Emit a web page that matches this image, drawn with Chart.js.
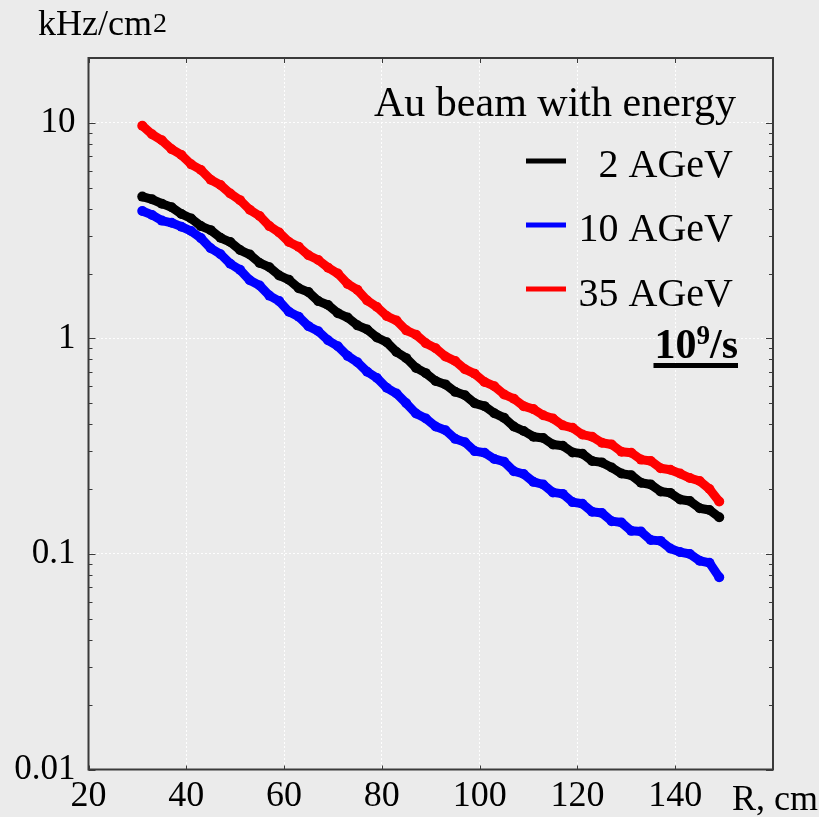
<!DOCTYPE html>
<html>
<head>
<meta charset="utf-8">
<script src="https://cdn.jsdelivr.net/npm/chart.js@4.4.1/dist/chart.umd.min.js"></script>
<style>
  html, body { margin: 0; padding: 0; background: #ebebeb; }
  #wrap { width: 819px; height: 817px; }
</style>
</head>
<body>
<div id="wrap"><canvas id="myChart" width="819" height="817"></canvas></div>
<script>
// R, cm
var radius = [31, 33, 35, 37, 39, 41, 43, 45, 47, 49, 51, 53, 55, 57, 59, 61, 63, 65, 67, 69,
  71, 73, 75, 77, 79, 81, 83, 85, 87, 89, 91, 93, 95, 97, 99, 101, 103, 105, 107, 109,
  111, 113, 115, 117, 119, 121, 123, 125, 127, 129, 131, 133, 135, 137, 139, 141, 143, 145, 147, 149];

// kHz/cm2 for each beam energy
var rate2 = [4.55, 4.42, 4.22, 4.06, 3.78, 3.60, 3.32, 3.18, 2.93, 2.80, 2.57, 2.45, 2.24, 2.14, 1.96, 1.87, 1.71, 1.64, 1.49, 1.43,
  1.31, 1.25, 1.15, 1.10, 1.01, 0.96, 0.865, 0.81, 0.73, 0.69, 0.635, 0.612, 0.565, 0.545, 0.50, 0.485, 0.45, 0.428, 0.39, 0.372,
  0.35, 0.345, 0.322, 0.318, 0.296, 0.292, 0.27, 0.266, 0.252, 0.236, 0.232, 0.214, 0.21, 0.195, 0.192, 0.179, 0.176, 0.163, 0.16, 0.148];
var rate10 = [3.9, 3.74, 3.52, 3.44, 3.3, 3.15, 2.92, 2.62, 2.46, 2.22, 2.08, 1.86, 1.76, 1.58, 1.49, 1.33, 1.26, 1.14, 1.08, 0.98,
  0.92, 0.83, 0.775, 0.70, 0.655, 0.59, 0.555, 0.50, 0.448, 0.425, 0.39, 0.375, 0.342, 0.33, 0.30, 0.295, 0.276, 0.268, 0.242, 0.235,
  0.216, 0.21, 0.193, 0.19, 0.174, 0.171, 0.157, 0.155, 0.142, 0.14, 0.128, 0.127, 0.116, 0.115, 0.106, 0.102, 0.1, 0.093, 0.091, 0.078];
var rate35 = [9.7, 8.85, 8.3, 7.55, 7.1, 6.42, 6.05, 5.45, 5.15, 4.70, 4.38, 3.95, 3.70, 3.32, 3.10, 2.80, 2.66, 2.43, 2.31, 2.13,
  2.00, 1.79, 1.68, 1.50, 1.40, 1.27, 1.21, 1.09, 1.04, 0.95, 0.90, 0.825, 0.785, 0.72, 0.685, 0.628, 0.60, 0.55, 0.525, 0.485,
  0.47, 0.44, 0.425, 0.395, 0.385, 0.358, 0.35, 0.328, 0.322, 0.298, 0.295, 0.274, 0.27, 0.25, 0.246, 0.236, 0.225, 0.218, 0.2, 0.175];

var xTicks = [20, 40, 60, 80, 100, 120, 140];
var yTicks = [0.01, 0.1, 1, 10];
var yMinor = [0.02, 0.03, 0.04, 0.05, 0.06, 0.07, 0.08, 0.09, 0.2, 0.3, 0.4, 0.5, 0.6, 0.7, 0.8, 0.9,
  2, 3, 4, 5, 6, 7, 8, 9, 20];

var legendItems = [
  { label: '2 AGeV', color: '#000000' },
  { label: '10 AGeV', color: '#0000ff' },
  { label: '35 AGeV', color: '#ff0000' }
];

var serif = '"Liberation Serif", "Times New Roman", serif';

function toPoints(values) {
  return values.map(function (v, i) { return { x: radius[i], y: v }; });
}

function seriesStyle(color) {
  return {
    borderColor: color,
    backgroundColor: color,
    pointBackgroundColor: color,
    pointBorderColor: color,
    borderWidth: 9,
    pointRadius: 5,
    pointBorderWidth: 0,
    borderJoinStyle: 'round',
    borderCapStyle: 'round',
    tension: 0,
    fill: false
  };
}

// frame, inner ticks, legend and axis captions
var extras = {
  id: 'extras',
  afterDatasetsDraw: function (chart) {
    var ctx = chart.ctx;
    var a = chart.chartArea;
    var xs = chart.scales.x, ys = chart.scales.y;
    ctx.save();
    ctx.strokeStyle = '#3a3a3a';
    ctx.lineWidth = 2;
    ctx.strokeRect(a.left, a.top, a.right - a.left, a.bottom - a.top);

    ctx.lineWidth = 1;
    ctx.beginPath();
    yTicks.forEach(function (v) {
      var y = Math.round(ys.getPixelForValue(v)) + 0.5;
      ctx.moveTo(a.left, y); ctx.lineTo(a.left + 7, y);
      ctx.moveTo(a.right, y); ctx.lineTo(a.right - 7, y);
    });
    yMinor.forEach(function (v) {
      var y = Math.round(ys.getPixelForValue(v)) + 0.5;
      ctx.moveTo(a.left, y); ctx.lineTo(a.left + 4, y);
      ctx.moveTo(a.right, y); ctx.lineTo(a.right - 4, y);
    });
    xTicks.forEach(function (v) {
      var x = Math.round(xs.getPixelForValue(v)) + 0.5;
      ctx.moveTo(x, a.top); ctx.lineTo(x, a.top + 5);
      ctx.moveTo(x, a.bottom); ctx.lineTo(x, a.bottom - 4);
    });
    ctx.stroke();

    // legend
    ctx.fillStyle = '#000';
    ctx.textAlign = 'right';
    ctx.textBaseline = 'alphabetic';
    ctx.font = '42px ' + serif;
    ctx.fillText('Au beam with energy', 736, 116);
    ctx.font = '40px ' + serif;
    var baselines = [177, 241, 306];
    var lineYs = [161, 225, 289];
    legendItems.forEach(function (item, i) {
      ctx.fillStyle = '#000';
      ctx.fillText(item.label, 733, baselines[i]);
      ctx.strokeStyle = item.color;
      ctx.lineWidth = 5;
      ctx.beginPath();
      ctx.moveTo(526, lineYs[i]);
      ctx.lineTo(566, lineYs[i]);
      ctx.stroke();
    });

    // 10^9/s, bold and underlined
    ctx.textAlign = 'left';
    ctx.font = 'bold 42px ' + serif;
    var w1 = ctx.measureText('10').width;
    var w3 = ctx.measureText('/s').width;
    ctx.font = 'bold 27px ' + serif;
    var w2 = ctx.measureText('9').width;
    var right = 738;
    var left = right - (w1 + w2 + w3);
    ctx.font = 'bold 42px ' + serif;
    ctx.fillText('10', left, 358);
    ctx.fillText('/s', left + w1 + w2, 358);
    ctx.font = 'bold 27px ' + serif;
    ctx.fillText('9', left + w1, 344);
    ctx.fillRect(left - 1, 363, right - left + 1, 5);

    // unit captions
    ctx.font = '36px ' + serif;
    ctx.fillText('kHz/cm', 38, 35);
    var wu = ctx.measureText('kHz/cm').width;
    ctx.font = '28px ' + serif;
    ctx.fillText('2', 38 + wu + 1, 32);
    ctx.font = '36px ' + serif;
    ctx.textAlign = 'right';
    ctx.fillText('R, cm', 818, 810);
    ctx.restore();
  }
};

var ctx = document.getElementById('myChart').getContext('2d');
var myChart = new Chart(ctx, {
  type: 'line',
  data: {
    datasets: [
      Object.assign({ label: '2 AGeV', data: toPoints(rate2), order: 1 }, seriesStyle('#000000')),
      Object.assign({ label: '10 AGeV', data: toPoints(rate10), order: 2 }, seriesStyle('#0000ff')),
      Object.assign({ label: '35 AGeV', data: toPoints(rate35), order: 3 }, seriesStyle('#ff0000'))
    ]
  },
  options: {
    responsive: false,
    animation: false,
    devicePixelRatio: 1,
    layout: { padding: { top: 58, right: 46, left: 0, bottom: 0 } },
    plugins: {
      legend: { display: false },
      tooltip: { enabled: false }
    },
    scales: {
      x: {
        type: 'linear',
        min: 20,
        max: 160,
        afterBuildTicks: function (scale) {
          scale.ticks = xTicks.map(function (v) { return { value: v }; });
        },
        afterFit: function (scale) { scale.height = 47.5; },
        ticks: {
          color: '#000',
          padding: 5,
          maxRotation: 0,
          font: { family: serif, size: 36 },
          callback: function (v) { return String(v); }
        },
        grid: {
          color: 'rgba(255,255,255,0.95)',
          lineWidth: 1,
          drawTicks: false
        },
        border: { display: false, dash: [2, 2] }
      },
      y: {
        type: 'logarithmic',
        min: 0.01,
        max: 20,
        afterBuildTicks: function (scale) {
          scale.ticks = yTicks.map(function (v) { return { value: v }; });
        },
        afterFit: function (scale) { scale.width = 88.5; },
        ticks: {
          color: '#000',
          padding: 13,
          font: { family: serif, size: 35 },
          callback: function (v) { return String(v); }
        },
        grid: {
          color: 'rgba(255,255,255,0.95)',
          lineWidth: 1,
          drawTicks: false
        },
        border: { display: false, dash: [2, 2] }
      }
    }
  },
  plugins: [extras]
});
</script>
</body>
</html>
